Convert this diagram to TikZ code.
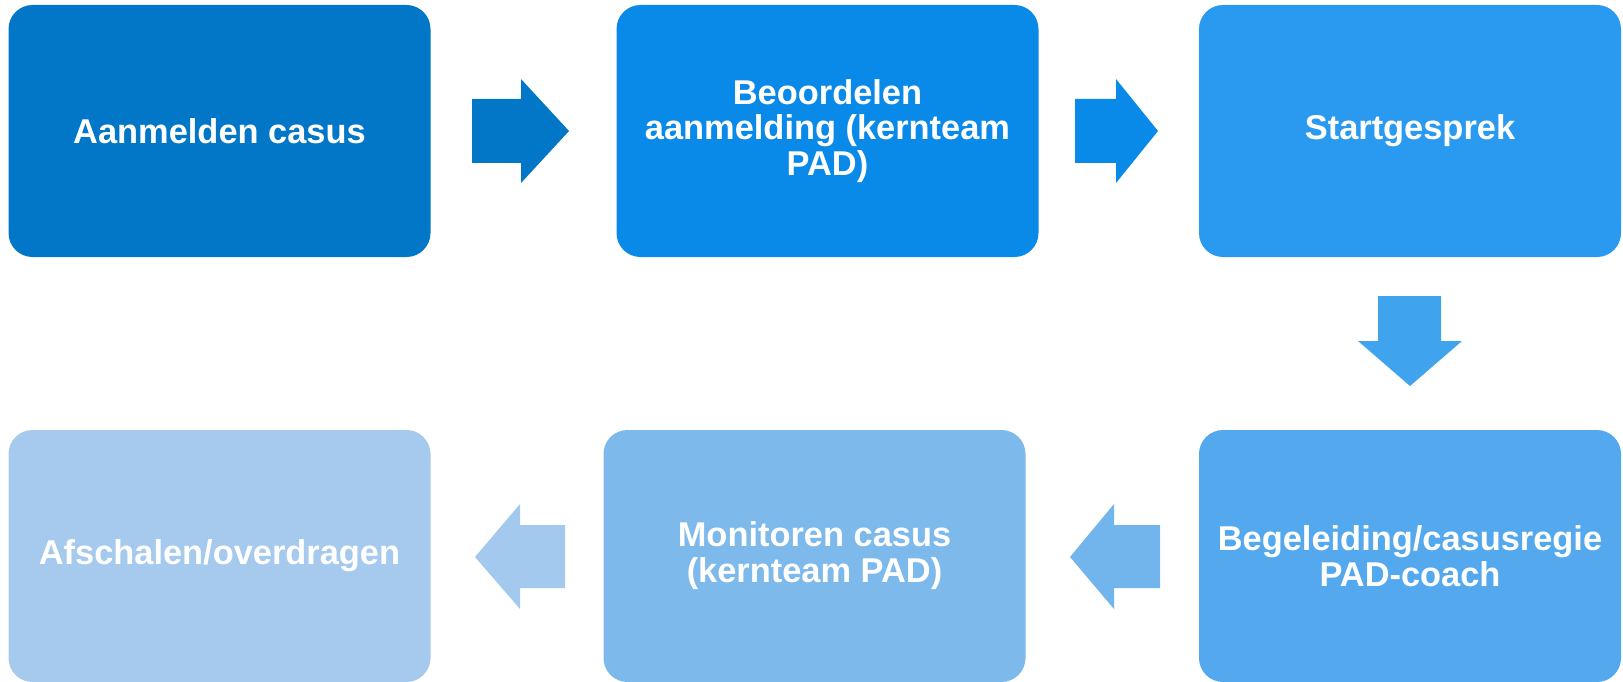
\documentclass[tikz,border=0pt]{standalone}
\usepackage{fontspec}
\setmainfont{Liberation Sans}
\definecolor{cA}{HTML}{0277C8}
\definecolor{cB}{HTML}{0A8AE8}
\definecolor{cC}{HTML}{2A9AF1}
\definecolor{cD}{HTML}{54A9EE}
\definecolor{cE}{HTML}{7DB9EA}
\definecolor{cF}{HTML}{A5CAEE}
\definecolor{aC}{HTML}{3FA3EE}
\definecolor{aD}{HTML}{72B4EC}
\definecolor{aE}{HTML}{A3C9EE}
\begin{document}
\begin{tikzpicture}[x=1pt,y=-1pt,
  stepbox/.style={rectangle, rounded corners=24pt, minimum width=422pt, minimum height=252pt,
    inner sep=0pt, text=white, align=center,
    font=\fontsize{34.4}{35.8}\selectfont\bfseries}]
\useasboundingbox (0,0) rectangle (1623,682);
\node[stepbox, fill=cA] (b1) at (219.5,131) {Aanmelden casus};
\node[stepbox, fill=cB] (b2) at (827.5,131) {Beoordelen\\aanmelding (kernteam\\PAD)};
\node[stepbox, fill=cC] (b3) at (1410,131) {Startgesprek};
\node[stepbox, fill=cD] (b4) at (1410,556) {Begeleiding/casusregie\\PAD-coach};
\node[stepbox, fill=cE] (b5) at (814.5,556) {Monitoren casus\\(kernteam PAD)};
\node[stepbox, fill=cF] (b6) at (219.5,556) {Afschalen/overdragen};
% block arrows
\fill[cA] (472,99) -- (521,99) -- (521,79) -- (569,131) -- (521,183) -- (521,163) -- (472,163) -- cycle;
\fill[cB] (1075,99) -- (1116,99) -- (1116,79) -- (1158,131) -- (1116,183) -- (1116,163) -- (1075,163) -- cycle;
\fill[aC] (1378,296) -- (1441,296) -- (1441,341) -- (1462,341) -- (1410,386) -- (1358,341) -- (1378,341) -- cycle;
\fill[aD] (1160,525) -- (1114,525) -- (1114,504) -- (1070,557) -- (1114,609) -- (1114,588) -- (1160,588) -- cycle;
\fill[aE] (565,525) -- (520,525) -- (520,504) -- (475,557) -- (520,609) -- (520,588) -- (565,588) -- cycle;
\end{tikzpicture}
\end{document}
